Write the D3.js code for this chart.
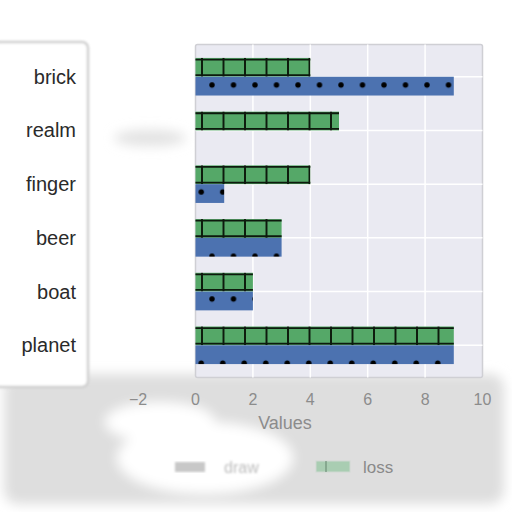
<!DOCTYPE html>
<html><head><meta charset="utf-8">
<script src="https://cdn.jsdelivr.net/npm/d3@7"></script>
<style>body{margin:0;background:#fff}svg{display:block}</style>
</head><body>
<svg id="c" width="512" height="512"></svg>
<script>
const categories = ["brick","realm","finger","beer","boat","planet"];
const lossValues = [4,5,4,3,2,9];
const drawValues = [9,0,1,3,2,9];
const seriesNames = ["draw","loss"];
const xTicks = [-2,0,2,4,6,8,10];

const svg = d3.select("#c");
const defs = svg.append("defs");
const x = d3.scaleLinear().domain([0,10]).range([195.5,482.5]);
const y = d3.scaleLinear().domain([-0.6,5.6]).range([44.5,377.5]);
const barH = 0.35;
const blue = "#4C72B0", green = "#55A868";

const f = defs.append("filter").attr("id","blur").attr("x","-20%").attr("y","-20%").attr("width","140%").attr("height","140%");
f.append("feGaussianBlur").attr("stdDeviation",6);
const f2 = defs.append("filter").attr("id","blur2");
f2.append("feGaussianBlur").attr("stdDeviation",1.2);

// staggered dot hatch
const pw = 21.5, ph = 42.8;
const pd = defs.append("pattern").attr("id","dots").attr("patternUnits","userSpaceOnUse")
  .attr("x",201.25).attr("y",74.3).attr("width",pw).attr("height",ph);
pd.append("rect").attr("width",pw).attr("height",ph).attr("fill",blue);
[[pw/2,10.7],[0,32.1],[pw,32.1]].forEach(([cx,cy])=>
  pd.append("circle").attr("cx",cx).attr("cy",cy).attr("r",2.7).attr("fill","#000"));
// plus hatch (vertical component global)
const pp = defs.append("pattern").attr("id","plus").attr("patternUnits","userSpaceOnUse")
  .attr("x",202-10.75).attr("y",0).attr("width",21.5).attr("height",21.4);
pp.append("rect").attr("width",21.5).attr("height",21.4).attr("fill",green);
pp.append("line").attr("x1",10.75).attr("x2",10.75).attr("y1",0).attr("y2",21.4).attr("stroke","#0d1a0d").attr("stroke-width",2);

// background smudges
const bg = svg.append("g").attr("filter","url(#blur)");
bg.append("rect").attr("x",4).attr("y",374).attr("width",500).attr("height",130).attr("rx",14).attr("fill","#dedede");
bg.append("ellipse").attr("cx",205).attr("cy",458).attr("rx",88).attr("ry",36).attr("fill","#fff");
bg.append("ellipse").attr("cx",160).attr("cy",422).attr("rx",55).attr("ry",20).attr("fill","#fff");
bg.append("ellipse").attr("cx",150).attr("cy",138).attr("rx",36).attr("ry",8).attr("fill","#e2e2e2");
svg.append("rect").attr("x",-6).attr("y",42).attr("width",94).attr("height",345).attr("rx",6)
  .attr("fill","#fff").attr("stroke","#d0d0d0").attr("stroke-width",2.5).attr("filter","url(#blur2)");

// plot area
svg.append("rect").attr("x",x(0)).attr("y",y(-0.6)).attr("width",x(10)-x(0)).attr("height",y(5.6)-y(-0.6))
  .attr("fill","#EAEAF2").attr("stroke","#cfcfd4").attr("stroke-width",1.5).attr("rx",2);

// grid
const g = svg.append("g");
g.selectAll("line.v").data(xTicks.filter(t=>t>0 && t<10)).join("line")
  .attr("x1",d=>x(d)).attr("x2",d=>x(d)).attr("y1",y(-0.6)).attr("y2",y(5.6))
  .attr("stroke","#fff").attr("stroke-width",1.5);
g.selectAll("line.h").data(categories).join("line")
  .attr("x1",x(0)).attr("x2",x(10)).attr("y1",(d,i)=>y(i)).attr("y2",(d,i)=>y(i))
  .attr("stroke","#fff").attr("stroke-width",1.5);

// bars
const bars = svg.append("g");
bars.selectAll("rect.loss").data(lossValues).join("rect")
  .attr("x",x(0)).attr("y",(d,i)=>y(i-barH)).attr("width",d=>x(d)-x(0)).attr("height",y(barH)-y(0))
  .attr("fill","url(#plus)");
lossValues.forEach((v,i)=>{
  if(v<=0) return;
  [y(i-barH)+1.6, y(i)-1.6].forEach(yy=>{
    bars.append("line").attr("x1",x(0)).attr("x2",x(v)).attr("y1",yy).attr("y2",yy)
      .attr("stroke","#0d1a0d").attr("stroke-width",1.8);
  });
});
bars.selectAll("rect.draw").data(drawValues).join("rect")
  .attr("x",x(0)).attr("y",(d,i)=>y(i)).attr("width",d=>x(d)-x(0)).attr("height",y(barH)-y(0))
  .attr("fill","url(#dots)");

// y labels
svg.append("g").selectAll("text").data(categories).join("text")
  .attr("x",76).attr("y",(d,i)=>y(i)).attr("dy","0.35em").attr("text-anchor","end")
  .attr("font-family","Liberation Sans, Arial, sans-serif").attr("font-size",20).attr("fill","#2a2a2a")
  .text(d=>d);

// x ticks
svg.append("g").selectAll("text").data(xTicks).join("text")
  .attr("x",d=>x(d)).attr("y",399).attr("dy","0.35em").attr("text-anchor","middle")
  .attr("font-family","Liberation Sans, Arial, sans-serif").attr("font-size",16).attr("fill","#8c8c8c")
  .text(d=>d<0?"\u2212"+Math.abs(d):d);
svg.append("text").attr("x",285).attr("y",423).attr("dy","0.35em").attr("text-anchor","middle")
  .attr("font-family","Liberation Sans, Arial, sans-serif").attr("font-size",18).attr("fill","#8c8c8c").text("Values");

// legend
const lg = svg.append("g");
lg.append("rect").attr("x",175).attr("y",462).attr("width",30).attr("height",10).attr("fill","#c8c8c8").attr("filter","url(#blur2)");
lg.append("text").attr("x",224).attr("y",467).attr("dy","0.35em").attr("font-family","Liberation Sans, Arial, sans-serif")
  .attr("font-size",16).attr("fill","#bdbdbd").attr("filter","url(#blur2)").text(seriesNames[0]);
lg.append("rect").attr("x",316).attr("y",461).attr("width",34).attr("height",11).attr("fill","#a9cdb2").attr("stroke","#cfd8d2");
lg.append("line").attr("x1",326).attr("x2",326).attr("y1",461).attr("y2",472).attr("stroke","#6f8f78").attr("stroke-width",1.2);
lg.append("text").attr("x",363).attr("y",467).attr("dy","0.35em").attr("font-family","Liberation Sans, Arial, sans-serif")
  .attr("font-size",17).attr("fill","#8a8a8a").text(seriesNames[1]);
</script>
</body></html>
